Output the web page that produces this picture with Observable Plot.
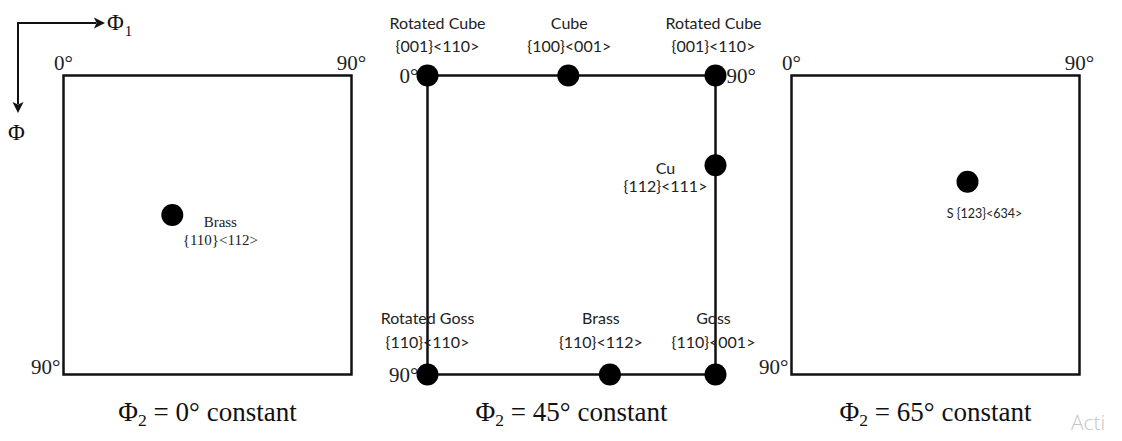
<!DOCTYPE html>
<html>
<head>
<meta charset="utf-8">
<script src="https://cdn.jsdelivr.net/npm/d3@7"></script>
<script src="https://cdn.jsdelivr.net/npm/@observablehq/plot@0.6"></script>
<style>
  html, body { margin: 0; padding: 0; background: #fff; overflow: hidden; }
  #wrap { position: relative; width: 1122px; height: 441px; }
  #key { position: absolute; left: 0; top: 0; }
  #stamp { position: absolute; left: 1071px; top: 410px; font: 300 21px "Open Sans", sans-serif; color: #c6c6c6; line-height: 1.2; }
</style>
</head>
<body>
<div id="wrap">
  <div id="chart"></div>
  <!-- Euler-angle direction key: φ1 runs right, Φ runs down -->
  <svg id="key" width="160" height="150" font-family="Liberation Serif, serif" fill="#111">
    <path d="M18 104 V23 H96" fill="none" stroke="#111" stroke-width="2"/>
    <path d="M105 23 L94 17.5 L96.5 23 L94 28.5 Z"/>
    <path d="M18 113 L12.5 102 L18 104.5 L23.5 102 Z"/>
    <text x="107" y="30" font-size="23">Φ<tspan font-size="15" dx="1" dy="6">1</tspan></text>
    <text x="8" y="140" font-size="23">Φ</text>
  </svg>
  <div id="stamp">Acti</div>
</div>
<script>
// φ2 sections of the Euler space
const sections = [0, 45, 65];
const sectionTitles = ["Φ₂ = 0° constant", "Φ₂ = 45° constant", "Φ₂ = 65° constant"];

// ideal texture components (φ1, Φ in degrees) and the section they sit in
const compSection = [0, 45, 45, 45, 45, 45, 45, 45, 65];
const compName = ["Brass", "Rotated Cube", "Cube", "Rotated Cube", "Cu", "Rotated Goss", "Brass", "Goss", "S"];
const compMiller = ["{110}<112>", "{001}<110>", "{100}<001>", "{001}<110>", "{112}<111>", "{110}<110>", "{110}<112>", "{110}<001>", "{123}<634>"];
const compPhi1 = [34, 0, 44, 90, 90, 0, 57, 90, 55];
const compPhi = [42, 0, 0, 0, 27, 90, 90, 90, 32];

// angle labels at the section corners
const cornerSection = [0, 0, 0, 45, 45, 45, 65, 65, 65];
const cornerPhi1 = [0, 90, 0, 0, 90, 0, 0, 90, 0];
const cornerPhi = [0, 0, 90, 0, 0, 90, 0, 0, 90];
const cornerText = ["0°", "90°", "90°", "0°", "90°", "90°", "0°", "90°", "90°"];

const serif = "Liberation Serif, Times New Roman, serif";
const sans = "Lato, Open Sans, sans-serif";

// label placement for each component, relative to its dot
const labelLayout = [
  {dx: 48, dy: 15, font: serif, size: 15, lh: 1.25, sep: "\n"},
  {dx: 10, dy: -42, font: sans, size: 16, lh: 1.4, sep: "\n"},
  {dx: 1, dy: -42, font: sans, size: 16, lh: 1.4, sep: "\n"},
  {dx: -2, dy: -42, font: sans, size: 16, lh: 1.4, sep: "\n"},
  {dx: -50, dy: 12, font: sans, size: 16, lh: 1.15, sep: "\n"},
  {dx: 0, dy: -46, font: sans, size: 16, lh: 1.5, sep: "\n"},
  {dx: -9, dy: -46, font: sans, size: 16, lh: 1.5, sep: "\n"},
  {dx: -2, dy: -46, font: sans, size: 16, lh: 1.5, sep: "\n"},
  {dx: 17, dy: 32, font: sans, size: 12.5, lh: 1, sep: " "}
];

const comps = compName.map((_, i) => i);
const corners = cornerText.map((_, i) => i);

const labelMarks = comps.map(i => {
  const L = labelLayout[i];
  return Plot.text([i], {
    fx: j => compSection[j],
    x: j => compPhi1[j],
    y: j => compPhi[j],
    text: j => compName[j] + L.sep + compMiller[j],
    dx: L.dx, dy: L.dy,
    fontFamily: L.font, fontSize: L.size, lineHeight: L.lh,
    lineAnchor: "middle", textAnchor: "middle", fill: "#222"
  });
});

const cornerOpts = {
  fx: i => cornerSection[i], x: i => cornerPhi1[i], y: i => cornerPhi[i],
  text: i => cornerText[i], fontFamily: serif, fontSize: 21, fill: "#222", lineAnchor: "middle"
};

const chart = Plot.plot({
  width: 1122,
  height: 441,
  marginLeft: 63,
  marginRight: 43,
  marginTop: 75,
  marginBottom: 67,
  fx: {domain: sections, paddingInner: 0.2088, paddingOuter: 0, axis: null},
  x: {domain: [0, 90], axis: null},
  y: {domain: [0, 90], reverse: true, axis: null},
  marks: [
    Plot.frame({stroke: "#111", strokeWidth: 2.5}),
    // corner angles: centred above the top edge in the 0° and 65° sections
    Plot.text(corners, {...cornerOpts, filter: i => cornerSection[i] !== 45 && cornerPhi[i] === 0,
      textAnchor: "middle", dy: -12}),
    // bottom-left 90° beside the left edge
    Plot.text(corners, {...cornerOpts, filter: i => cornerSection[i] !== 45 && cornerPhi[i] === 90,
      textAnchor: "end", dx: -3, dy: -7}),
    // 45° section: angles sit beside the corner dots
    Plot.text(corners, {...cornerOpts, filter: i => cornerSection[i] === 45 && cornerPhi1[i] === 0,
      textAnchor: "end", dx: -9, dy: 1}),
    Plot.text(corners, {...cornerOpts, filter: i => cornerSection[i] === 45 && cornerPhi1[i] === 90,
      textAnchor: "start", dx: 11, dy: 1}),
    Plot.dot(comps, {fx: i => compSection[i], x: i => compPhi1[i], y: i => compPhi[i], r: 11, fill: "#000"}),
    ...labelMarks,
    Plot.text(sections, {fx: d => d, frameAnchor: "bottom", dy: 38, text: (d, i) => sectionTitles[i],
      fontFamily: serif, fontSize: 27, fill: "#111", lineAnchor: "middle"})
  ]
});

// render subscript digits (₀–₉) as lowered, smaller tspans
const subDigits = "₀₁₂₃₄₅₆₇₈₉";
chart.querySelectorAll("text").forEach(t => {
  if (t.children.length) return;
  const s = t.textContent;
  if (![...s].some(c => subDigits.includes(c))) return;
  t.textContent = "";
  let lowered = false;
  for (const c of s) {
    const k = subDigits.indexOf(c);
    const ts = document.createElementNS("http://www.w3.org/2000/svg", "tspan");
    if (k >= 0) {
      ts.textContent = String(k);
      ts.setAttribute("font-size", "65%");
      if (!lowered) ts.setAttribute("dy", "0.3em");
      lowered = true;
    } else {
      ts.textContent = c;
      if (lowered) ts.setAttribute("dy", "-0.2em");
      lowered = false;
    }
    t.appendChild(ts);
  }
});

document.getElementById("chart").appendChild(chart);
</script>
</body>
</html>
